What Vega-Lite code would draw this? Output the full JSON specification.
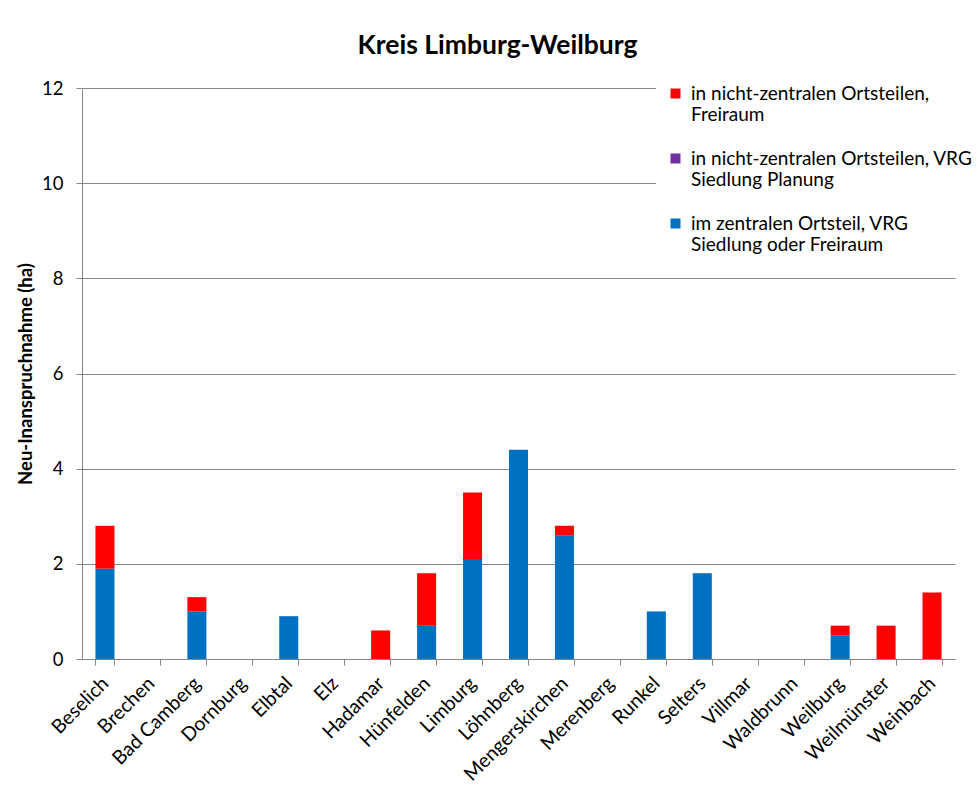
{
  "$schema": "https://vega.github.io/schema/vega-lite/v6.json",
  "autosize": {"type": "none"},
  "padding": {"left": 82, "top": 88, "right": 22, "bottom": 150},
  "width": 873,
  "height": 571,
  "background": "white",
  "title": {
    "text": "Kreis Limburg-Weilburg",
    "font": "Lato",
    "fontSize": 26.5,
    "fontWeight": "bold",
    "color": "black",
    "anchor": "middle",
    "frame": "group",
    "dx": -21,
    "offset": 15
  },
  "data": {
    "values": [
      {"Gemeinde": "Beselich", "Kategorie": "im zentralen Ortsteil, VRG Siedlung oder Freiraum", "ha": 1.9},
      {"Gemeinde": "Beselich", "Kategorie": "in nicht-zentralen Ortsteilen, Freiraum", "ha": 0.9},
      {"Gemeinde": "Brechen", "Kategorie": "im zentralen Ortsteil, VRG Siedlung oder Freiraum", "ha": 0},
      {"Gemeinde": "Brechen", "Kategorie": "in nicht-zentralen Ortsteilen, Freiraum", "ha": 0},
      {"Gemeinde": "Bad Camberg", "Kategorie": "im zentralen Ortsteil, VRG Siedlung oder Freiraum", "ha": 1.0},
      {"Gemeinde": "Bad Camberg", "Kategorie": "in nicht-zentralen Ortsteilen, Freiraum", "ha": 0.3},
      {"Gemeinde": "Dornburg", "Kategorie": "im zentralen Ortsteil, VRG Siedlung oder Freiraum", "ha": 0},
      {"Gemeinde": "Dornburg", "Kategorie": "in nicht-zentralen Ortsteilen, Freiraum", "ha": 0},
      {"Gemeinde": "Elbtal", "Kategorie": "im zentralen Ortsteil, VRG Siedlung oder Freiraum", "ha": 0.9},
      {"Gemeinde": "Elbtal", "Kategorie": "in nicht-zentralen Ortsteilen, Freiraum", "ha": 0},
      {"Gemeinde": "Elz", "Kategorie": "im zentralen Ortsteil, VRG Siedlung oder Freiraum", "ha": 0},
      {"Gemeinde": "Elz", "Kategorie": "in nicht-zentralen Ortsteilen, Freiraum", "ha": 0},
      {"Gemeinde": "Hadamar", "Kategorie": "im zentralen Ortsteil, VRG Siedlung oder Freiraum", "ha": 0},
      {"Gemeinde": "Hadamar", "Kategorie": "in nicht-zentralen Ortsteilen, Freiraum", "ha": 0.6},
      {"Gemeinde": "Hünfelden", "Kategorie": "im zentralen Ortsteil, VRG Siedlung oder Freiraum", "ha": 0.7},
      {"Gemeinde": "Hünfelden", "Kategorie": "in nicht-zentralen Ortsteilen, Freiraum", "ha": 1.1},
      {"Gemeinde": "Limburg", "Kategorie": "im zentralen Ortsteil, VRG Siedlung oder Freiraum", "ha": 2.1},
      {"Gemeinde": "Limburg", "Kategorie": "in nicht-zentralen Ortsteilen, Freiraum", "ha": 1.4},
      {"Gemeinde": "Löhnberg", "Kategorie": "im zentralen Ortsteil, VRG Siedlung oder Freiraum", "ha": 4.4},
      {"Gemeinde": "Löhnberg", "Kategorie": "in nicht-zentralen Ortsteilen, Freiraum", "ha": 0},
      {"Gemeinde": "Mengerskirchen", "Kategorie": "im zentralen Ortsteil, VRG Siedlung oder Freiraum", "ha": 2.6},
      {"Gemeinde": "Mengerskirchen", "Kategorie": "in nicht-zentralen Ortsteilen, Freiraum", "ha": 0.2},
      {"Gemeinde": "Merenberg", "Kategorie": "im zentralen Ortsteil, VRG Siedlung oder Freiraum", "ha": 0},
      {"Gemeinde": "Merenberg", "Kategorie": "in nicht-zentralen Ortsteilen, Freiraum", "ha": 0},
      {"Gemeinde": "Runkel", "Kategorie": "im zentralen Ortsteil, VRG Siedlung oder Freiraum", "ha": 1.0},
      {"Gemeinde": "Runkel", "Kategorie": "in nicht-zentralen Ortsteilen, Freiraum", "ha": 0},
      {"Gemeinde": "Selters", "Kategorie": "im zentralen Ortsteil, VRG Siedlung oder Freiraum", "ha": 1.8},
      {"Gemeinde": "Selters", "Kategorie": "in nicht-zentralen Ortsteilen, Freiraum", "ha": 0},
      {"Gemeinde": "Villmar", "Kategorie": "im zentralen Ortsteil, VRG Siedlung oder Freiraum", "ha": 0},
      {"Gemeinde": "Villmar", "Kategorie": "in nicht-zentralen Ortsteilen, Freiraum", "ha": 0},
      {"Gemeinde": "Waldbrunn", "Kategorie": "im zentralen Ortsteil, VRG Siedlung oder Freiraum", "ha": 0},
      {"Gemeinde": "Waldbrunn", "Kategorie": "in nicht-zentralen Ortsteilen, Freiraum", "ha": 0},
      {"Gemeinde": "Weilburg", "Kategorie": "im zentralen Ortsteil, VRG Siedlung oder Freiraum", "ha": 0.5},
      {"Gemeinde": "Weilburg", "Kategorie": "in nicht-zentralen Ortsteilen, Freiraum", "ha": 0.2},
      {"Gemeinde": "Weilmünster", "Kategorie": "im zentralen Ortsteil, VRG Siedlung oder Freiraum", "ha": 0},
      {"Gemeinde": "Weilmünster", "Kategorie": "in nicht-zentralen Ortsteilen, Freiraum", "ha": 0.7},
      {"Gemeinde": "Weinbach", "Kategorie": "im zentralen Ortsteil, VRG Siedlung oder Freiraum", "ha": 0},
      {"Gemeinde": "Weinbach", "Kategorie": "in nicht-zentralen Ortsteilen, Freiraum", "ha": 1.4}
    ]
  },
  "mark": {"type": "bar"},
  "encoding": {
    "x": {
      "field": "Gemeinde",
      "type": "nominal",
      "sort": ["Beselich", "Brechen", "Bad Camberg", "Dornburg", "Elbtal", "Elz", "Hadamar", "Hünfelden", "Limburg", "Löhnberg", "Mengerskirchen", "Merenberg", "Runkel", "Selters", "Villmar", "Waldbrunn", "Weilburg", "Weilmünster", "Weinbach"],
      "scale": {"paddingInner": 0.586, "paddingOuter": 0.293},
      "axis": {
        "title": null,
        "labelAngle": -45,
        "labelAlign": "right",
        "labelBaseline": "middle",
        "labelFont": "Lato",
        "labelFontSize": 19.5,
        "labelColor": "black",
        "labelPadding": 15,
        "domainColor": "#868686",
        "tickColor": "#868686",
        "tickSize": 6,
        "tickBand": "extent",
        "grid": false
      }
    },
    "y": {
      "field": "ha",
      "type": "quantitative",
      "stack": "zero",
      "scale": {"domain": [0, 12], "nice": false},
      "axis": {
        "title": "Neu-Inanspruchnahme (ha)",
        "titleFont": "Lato",
        "titleFontSize": 18.5,
        "titleFontWeight": "bold",
        "titleColor": "black",
        "titlePadding": 6,
        "values": [0, 2, 4, 6, 8, 10, 12],
        "labelFont": "Lato",
        "labelFontSize": 18.5,
        "labelColor": "black",
        "labelPadding": 13,
        "domainColor": "#868686",
        "tickColor": "#868686",
        "tickSize": 6,
        "grid": true,
        "gridColor": "#868686",
        "gridOpacity": 1
      }
    },
    "color": {
      "field": "Kategorie",
      "type": "nominal",
      "scale": {
        "domain": ["in nicht-zentralen Ortsteilen, Freiraum", "in nicht-zentralen Ortsteilen, VRG Siedlung Planung", "im zentralen Ortsteil, VRG Siedlung oder Freiraum"],
        "range": ["#FF0000", "#7030A0", "#0070C0"]
      },
      "legend": {
        "title": null,
        "orient": "none",
        "legendX": 574,
        "legendY": -14,
        "fillColor": "white",
        "padding": 10,
        "symbolType": "square",
        "symbolSize": 100,
        "symbolStrokeWidth": 0,
        "symbolOpacity": 1,
        "labelFont": "Lato",
        "labelFontSize": 19,
        "labelColor": "black",
        "labelLimit": 400,
        "labelOffset": 6,
        "rowPadding": 24,
        "labelExpr": "datum.value == 'in nicht-zentralen Ortsteilen, Freiraum' ? ['in nicht-zentralen Ortsteilen,', 'Freiraum'] : datum.value == 'in nicht-zentralen Ortsteilen, VRG Siedlung Planung' ? ['in nicht-zentralen Ortsteilen, VRG', 'Siedlung Planung'] : ['im zentralen Ortsteil, VRG', 'Siedlung oder Freiraum']"
      }
    },
    "order": {"field": "Kategorie", "sort": "ascending"}
  },
  "config": {
    "view": {"stroke": null},
    "axis": {"domainWidth": 1, "tickWidth": 1, "gridWidth": 1}
  }
}
